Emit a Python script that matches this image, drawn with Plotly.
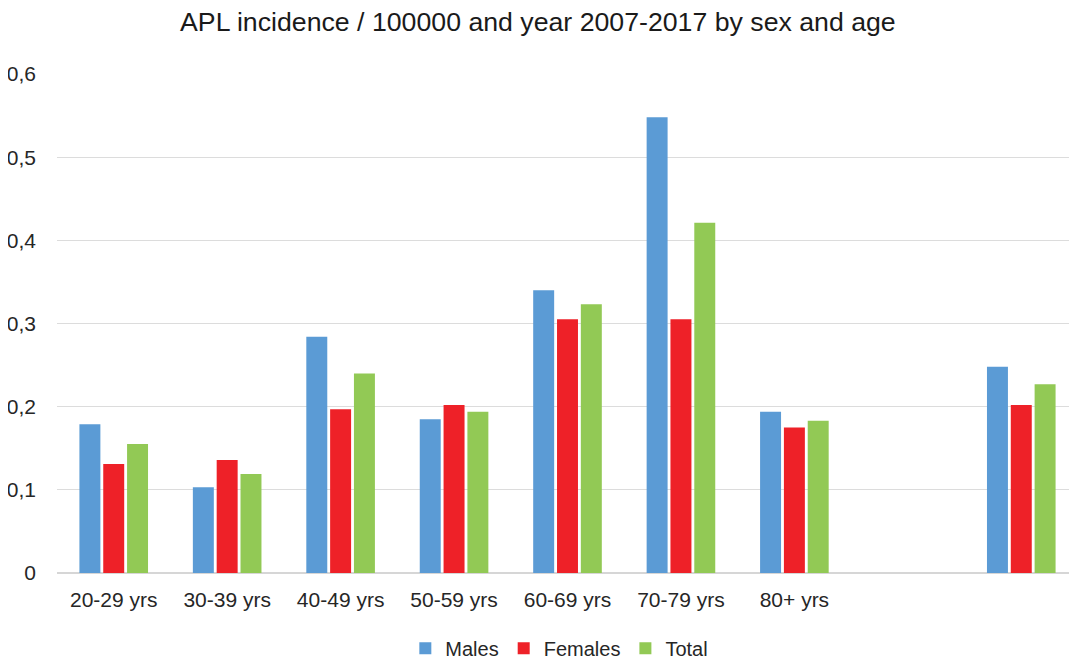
import plotly.graph_objects as go

categories = ["20-29 yrs", "30-39 yrs", "40-49 yrs", "50-59 yrs", "60-69 yrs",
              "70-79 yrs", "80+ yrs", "gap", "overall"]
tick_labels = ["20-29 yrs", "30-39 yrs", "40-49 yrs", "50-59 yrs", "60-69 yrs",
               "70-79 yrs", "80+ yrs", "", ""]
males = [0.179, 0.103, 0.284, 0.185, 0.340, 0.548, 0.194, None, 0.248]
females = [0.131, 0.136, 0.197, 0.202, 0.305, 0.305, 0.175, None, 0.202]
total = [0.155, 0.119, 0.240, 0.194, 0.323, 0.421, 0.183, None, 0.227]

series = [("Males", males, "#5B9BD5"), ("Females", females, "#EE2128"), ("Total", total, "#92C955")]

fig = go.Figure()
for name, vals, col in series:
    fig.add_trace(go.Bar(x=categories, y=vals, name=name, marker_color=col,
                         marker_line_width=0))

fig.update_layout(
    width=1077, height=680,
    paper_bgcolor="white", plot_bgcolor="white",
    font=dict(family="Liberation Sans, Arial, sans-serif", size=21, color="#262626"),
    title=dict(text="APL incidence / 100000 and year 2007-2017 by sex and age",
               xref="container", x=0.492, xanchor="center",
               yref="container", y=1 - 14 / 680, yanchor="middle",
               font=dict(size=26.7, color="#1a1a1a")),
    margin=dict(l=49, r=7, t=66, b=115),
    barmode="group", bargap=0.37, bargroupgap=0.12,
    legend=dict(orientation="h", x=0.492, xanchor="center", y=-0.151, yanchor="middle",
                font=dict(size=20, color="#262626"), itemwidth=30, traceorder="normal"),
    xaxis=dict(type="category", categoryorder="array", categoryarray=categories,
               tickvals=categories, ticktext=tick_labels, showgrid=False,
               showline=False, ticks="", ticklabelstandoff=12, automargin=False),
    yaxis=dict(range=[0, 0.6], showgrid=True,
               gridcolor="#dcdcdc", gridwidth=1.3, zeroline=True, zerolinecolor="#d6d6d6",
               zerolinewidth=2, showline=False, ticks="", ticklabelstandoff=20,
               automargin=False),
)
fig.update_yaxes(tickvals=[0, 0.1, 0.2, 0.3, 0.4, 0.5, 0.6],
                 ticktext=["0", "0,1", "0,2", "0,3", "0,4", "0,5", "0,6"])

fig.write_html("out.html")
